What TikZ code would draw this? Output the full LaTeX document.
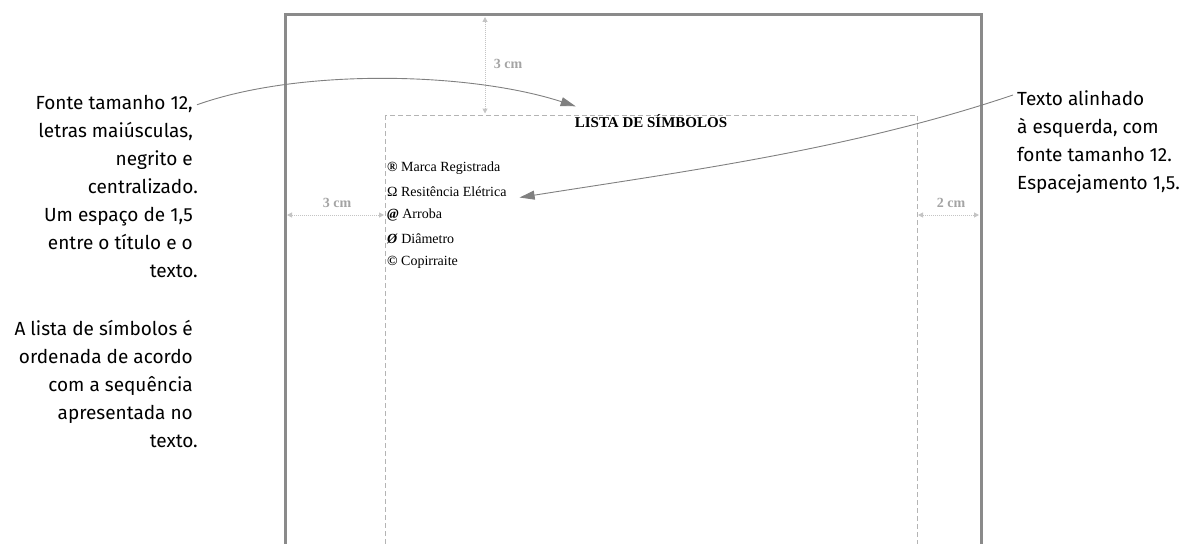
\documentclass[tikz,border=0pt]{standalone}
\usepackage{fontspec}
\setmainfont{Liberation Serif}
\newfontfamily\annfont{Fira Sans}
\usetikzlibrary{arrows.meta}
\definecolor{framegray}{HTML}{8A8A8A}
\definecolor{dashgray}{HTML}{B4B4B4}
\definecolor{dimgray}{HTML}{C4C4C4}
\definecolor{dimtext}{HTML}{A4A4A4}
\definecolor{conngray}{HTML}{808080}
\tikzset{
  pageframe/.style={draw=framegray, line width=3pt},
  marginbox/.style={draw=dashgray, line width=0.9pt, dash pattern=on 5pt off 3pt},
  dimline/.style={draw=dimgray, line width=1pt, densely dotted, {Triangle[length=5pt,width=5pt,fill=dimgray]}-{Triangle[length=5pt,width=5pt,fill=dimgray]}},
  dimlabel/.style={font=\fontsize{14}{16}\selectfont\bfseries, text=dimtext, inner sep=0pt},
  conn/.style={draw=conngray, line width=0.9pt, -{Triangle[length=15pt,width=9pt,fill=conngray]}},
  ann/.style={font=\annfont\fontsize{19}{28}\selectfont, inner sep=0pt},
  annr/.style={ann, anchor=mid east},
  annl/.style={ann, anchor=mid west},
  item/.style={font=\fontsize{14}{16}\selectfont, inner sep=0pt, anchor=west},
  titlestyle/.style={font=\fontsize{15}{17}\selectfont\bfseries, inner sep=0pt}
}
\begin{document}
\begin{tikzpicture}[x=1pt,y=-1pt]
\useasboundingbox (0,0) rectangle (1182,543);
\clip (0,0) rectangle (1182,543);
% page and margins
\draw[pageframe] (285,15) rectangle (981,600);
\draw[marginbox] (385,115) rectangle (917,600);
% dimension marks
\coordinate (dt1) at (485,17);
\coordinate (dt2) at (485,113.5);
\draw[dimline] (dt1) -- (dt2);
\node[dimlabel] (dtl) at (508,64) {3 cm};
\coordinate (dl1) at (287,215);
\coordinate (dl2) at (384,215);
\draw[dimline] (dl1) -- (dl2);
\node[dimlabel] (dll) at (337,203) {3 cm};
\coordinate (dr1) at (918,215);
\coordinate (dr2) at (979,215);
\draw[dimline] (dr1) -- (dr2);
\node[dimlabel] (drl) at (951,203) {2 cm};
% page content
\node[titlestyle] (title) at (651,121) {LISTA DE SÍMBOLOS};
\node[item] (i1) at (387,168) {\textbf{®} Marca Registrada};
\node[item] (i2) at (387,191.5) {Ω Resitência Elétrica};
\node[item] (i3) at (387,215) {\textbf{\textit{@}} Arroba};
\node[item] (i4) at (387,238.5) {\textbf{\textit{Ø}} Diâmetro};
\node[item] (i5) at (387,262) {\textbf{©} Copirraite};
% left annotations
\node[annr] (l1) at (193,107) {Fonte tamanho 12,};
\node[annr] (l2) at (193,135) {letras maiúsculas,};
\node[annr] (l3) at (193,163) {negrito e};
\node[annr] (l4) at (198,191) {centralizado.};
\node[annr] (l5) at (193,219) {Um espaço de 1,5};
\node[annr] (l6) at (193,247) {entre o título e o};
\node[annr] (l7) at (198,275) {texto.};
\node[annr] (m1) at (193,333) {A lista de símbolos é};
\node[annr] (m2) at (193,361) {ordenada de acordo};
\node[annr] (m3) at (193,389) {com a sequência};
\node[annr] (m4) at (193,417) {apresentada no};
\node[annr] (m5) at (198,445) {texto.};
% right annotation
\node[annl] (r1) at (1017,103) {Texto alinhado};
\node[annl] (r2) at (1017,131) {à esquerda, com};
\node[annl] (r3) at (1017,159) {fonte tamanho 12.};
\node[annl] (r4) at (1017,187) {Espacejamento 1,5.};
% connectors
\coordinate (ls) at ([xshift=4pt,yshift=-1pt]l1.east);
\coordinate (lt) at ([xshift=1pt,yshift=8pt]title.north west);
\draw[conn] (ls) .. controls (300,68) and (470,72) .. (lt);
\coordinate (rs) at ([xshift=-4pt,yshift=3pt]r1.west);
\coordinate (rt) at ([xshift=13pt,yshift=-6pt]i2.east);
\draw[conn] (rs) .. controls (850,150) and (680,172) .. (rt);
\end{tikzpicture}
\end{document}
